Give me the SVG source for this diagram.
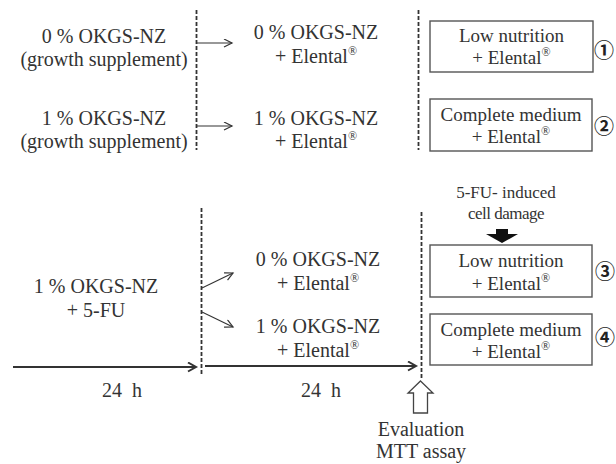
<svg xmlns="http://www.w3.org/2000/svg" width="616" height="464" viewBox="0 0 616 464" font-family="'Liberation Serif', 'Times New Roman', serif">
<style>
text{font-family:"Liberation Serif","Times New Roman",serif;fill:#333;text-anchor:middle}
.t{font-size:20px}
.b{font-size:19px}
.s{font-size:17px}
.num{font-family:"Noto Sans CJK JP","DejaVu Sans",sans-serif;font-size:20px;font-weight:700;fill:#222;dominant-baseline:central}
.r{font-size:12px}
.dash{stroke:#333;stroke-width:1.8;stroke-dasharray:4 2;fill:none}
.box{fill:#fff;stroke:#555;stroke-width:1.4}
.thin{stroke:#333;stroke-width:1.1;fill:none}
.thick{stroke:#333;stroke-width:2.2;fill:none}
</style>
<defs>
<marker id="ah" markerUnits="userSpaceOnUse" markerWidth="12" markerHeight="12" refX="9" refY="4.5" orient="auto">
<path d="M1,0.5 L9,4.5 L1,8.5" fill="none" stroke="#333" stroke-width="1.2"/>
</marker>
<marker id="ah2" markerUnits="userSpaceOnUse" markerWidth="12" markerHeight="12" refX="9" refY="5" orient="auto">
<path d="M1,0.5 L9,5 L1,9.5" fill="none" stroke="#333" stroke-width="2"/>
</marker>
</defs>

<g id="connectors">
<line class="dash" x1="196.5" y1="10" x2="196.5" y2="150"/>
<line class="dash" x1="418.5" y1="10" x2="418.5" y2="150"/>
<line class="dash" x1="201.5" y1="208" x2="201.5" y2="374"/>
<line class="dash" x1="421.5" y1="212" x2="421.5" y2="378"/>
<line class="thin" x1="197" y1="43" x2="232" y2="43" marker-end="url(#ah)"/>
<line class="thin" x1="197" y1="126" x2="232" y2="126" marker-end="url(#ah)"/>
<line class="thin" x1="202" y1="288" x2="233" y2="273" marker-end="url(#ah)"/>
<line class="thin" x1="202" y1="312" x2="233" y2="327" marker-end="url(#ah)"/>
<line class="thick" x1="13" y1="367" x2="196" y2="367" marker-end="url(#ah2)"/>
<line class="thick" x1="205" y1="366" x2="416" y2="366" marker-end="url(#ah2)"/>
<polygon id="damage-arrow" points="496,229 508,229 508,234 518,234 502,243 486,234 496,234" fill="#111"/>
<polygon id="eval-arrow" points="420.5,381 433,393 427.5,393 427.5,413 413.5,413 413.5,393 408,393" fill="#fff" stroke="#444" stroke-width="1.3"/>
</g>

<g id="n-left-0">
<text class="t" x="104" y="43">0 % OKGS-NZ</text>
<text class="t" x="104" y="66">(growth supplement)</text>
</g>
<g id="n-left-1">
<text class="t" x="104" y="125">1 % OKGS-NZ</text>
<text class="t" x="104" y="148">(growth supplement)</text>
</g>
<g id="n-mid-0">
<text class="t" x="316" y="39">0 % OKGS-NZ</text>
<text class="t" x="316" y="63">+ Elental<tspan class="r" dy="-8">®</tspan></text>
</g>
<g id="n-mid-1">
<text class="t" x="316" y="125">1 % OKGS-NZ</text>
<text class="t" x="316" y="148">+ Elental<tspan class="r" dy="-8">®</tspan></text>
</g>
<g id="n-box-1">
<rect class="box" x="430" y="21" width="163" height="51"/>
<text class="b" x="511.5" y="42">Low nutrition</text>
<text class="b" x="511.5" y="64">+ Elental<tspan class="r" dy="-8">®</tspan></text>
<text class="num" x="604" y="49">①</text>
</g>
<g id="n-box-2">
<rect class="box" x="430" y="99" width="162" height="52"/>
<text class="b" x="511" y="121">Complete medium</text>
<text class="b" x="511" y="143">+ Elental<tspan class="r" dy="-8">®</tspan></text>
<text class="num" x="604" y="125">②</text>
</g>
<g id="n-left-5fu">
<text class="t" x="96" y="293">1 % OKGS-NZ</text>
<text class="t" x="96" y="317">+ 5-FU</text>
</g>
<g id="n-mid-2">
<text class="t" x="318" y="266">0 % OKGS-NZ</text>
<text class="t" x="318" y="290">+ Elental<tspan class="r" dy="-8">®</tspan></text>
</g>
<g id="n-mid-3">
<text class="t" x="318" y="333">1 % OKGS-NZ</text>
<text class="t" x="318" y="357">+ Elental<tspan class="r" dy="-8">®</tspan></text>
</g>
<g id="n-damage">
<text class="s" x="506" y="198">5-FU- induced</text>
<text class="s" x="506" y="219" letter-spacing="-0.5">cell damage</text>
</g>
<g id="n-box-3">
<rect class="box" x="430" y="245" width="162" height="52"/>
<text class="b" x="511" y="267">Low nutrition</text>
<text class="b" x="511" y="290">+ Elental<tspan class="r" dy="-8">®</tspan></text>
<text class="num" x="605" y="270">③</text>
</g>
<g id="n-box-4">
<rect class="box" x="430" y="314" width="162" height="51"/>
<text class="b" x="511" y="336">Complete medium</text>
<text class="b" x="511" y="358">+ Elental<tspan class="r" dy="-8">®</tspan></text>
<text class="num" x="605" y="336">④</text>
</g>
<g id="n-time-1">
<text class="t" x="122" y="397" word-spacing="5">24 h</text>
</g>
<g id="n-time-2">
<text class="t" x="321" y="397" word-spacing="5">24 h</text>
</g>
<g id="n-eval">
<text class="t" x="421" y="436">Evaluation</text>
<text class="t" x="421" y="458">MTT assay</text>
</g>
</svg>
